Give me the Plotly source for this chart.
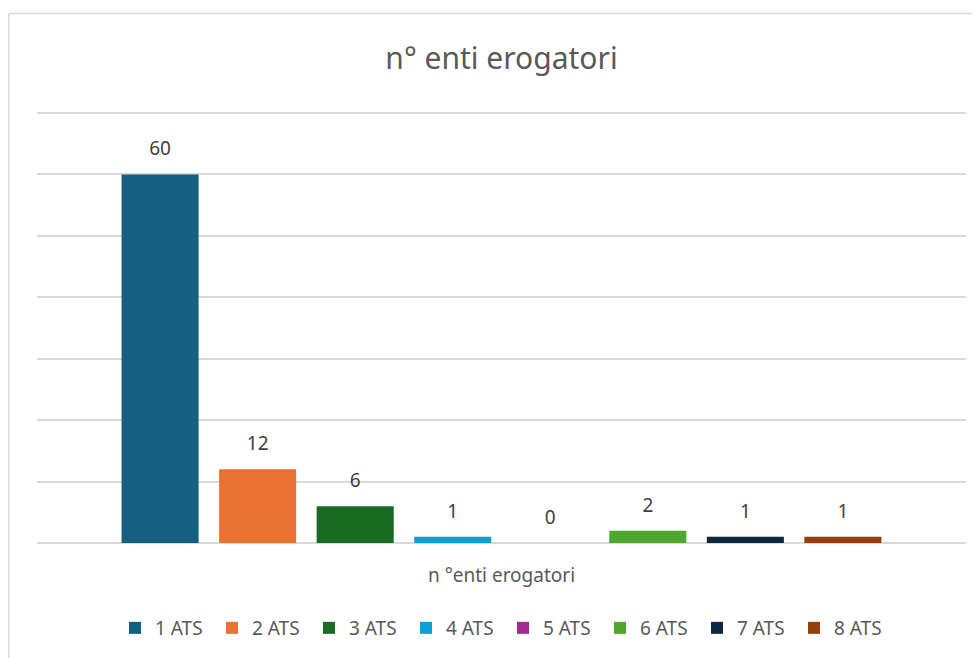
import plotly.graph_objects as go

category = ["n °enti erogatori"]
series_names = ["1 ATS", "2 ATS", "3 ATS", "4 ATS", "5 ATS", "6 ATS", "7 ATS", "8 ATS"]
series_values = [60, 12, 6, 1, 0, 2, 1, 1]
series_colors = ["#156082", "#E97132", "#196B24", "#0F9ED5", "#A02B93", "#4EA72E", "#0E2841", "#953F0C"]

FONT = "'Noto Sans', 'Open Sans', sans-serif"
TXT = "#595959"

fig = go.Figure()
for name, val, col in zip(series_names, series_values, series_colors):
    fig.add_trace(go.Bar(
        x=category, y=[val], name=name,
        marker=dict(color=col, line=dict(width=0)),
        text=[f"<span style='font-size:19px'>{val}</span><br> "],
        textposition="outside",
        textfont=dict(family=FONT, size=10, color="#404040"),
        cliponaxis=False,
    ))

# page body has an 8px margin, so the figure is drawn starting at (8, 8)
OFF = 8
W, H = 980, 658
L, R, T, B = 37 - OFF, 22, 110 - OFF, 123
pw, ph = W - L - R, H - T - B

def px_x(x):
    return (x - OFF - L) / pw

def px_y(y):
    return (H - B - (y - OFF)) / ph

border = dict(color="#d9d9d9", width=1.5)

fig.update_layout(
    width=W, height=H,
    margin=dict(l=L, r=R, t=T, b=B),
    paper_bgcolor="white", plot_bgcolor="white",
    barmode="group", bargap=0.16, bargroupgap=0.21,
    font=dict(family=FONT, color=TXT),
    title=dict(text="n° enti erogatori", x=px_x(501.5), xanchor="center",
               xref="paper",
               y=1 - (58 - OFF) / H, yanchor="middle", yref="container",
               font=dict(family=FONT, size=30, color=TXT)),
    showlegend=True,
    legend=dict(orientation="h", x=px_x(503), xanchor="center",
                y=px_y(628), yanchor="middle",
                font=dict(family=FONT, size=19, color=TXT),
                entrywidth=52, entrywidthmode="pixels",
                traceorder="normal", bgcolor="rgba(0,0,0,0)"),
    xaxis=dict(type="category", range=[-0.5, 0.5], showgrid=False,
               showline=False, ticks="", ticklabelstandoff=19,
               tickfont=dict(family=FONT, size=19, color=TXT)),
    yaxis=dict(range=[0, 70.5], tickvals=[0, 10, 20, 30, 40, 50, 60, 70],
               showticklabels=False,
               showgrid=True, gridcolor="#d9d9d9", gridwidth=1.5,
               zeroline=True, zerolinecolor="#d9d9d9", zerolinewidth=1.5,
               showline=False, ticks=""),
    shapes=[
        dict(type="line", xref="paper", yref="paper",
             x0=px_x(8.8), x1=px_x(990), y0=px_y(13.5), y1=px_y(13.5),
             line=border, layer="above"),
        dict(type="line", xref="paper", yref="paper",
             x0=px_x(8.8), x1=px_x(8.8), y0=px_y(13.5), y1=px_y(700),
             line=border, layer="above"),
    ],
)

fig.write_html("out.html")
